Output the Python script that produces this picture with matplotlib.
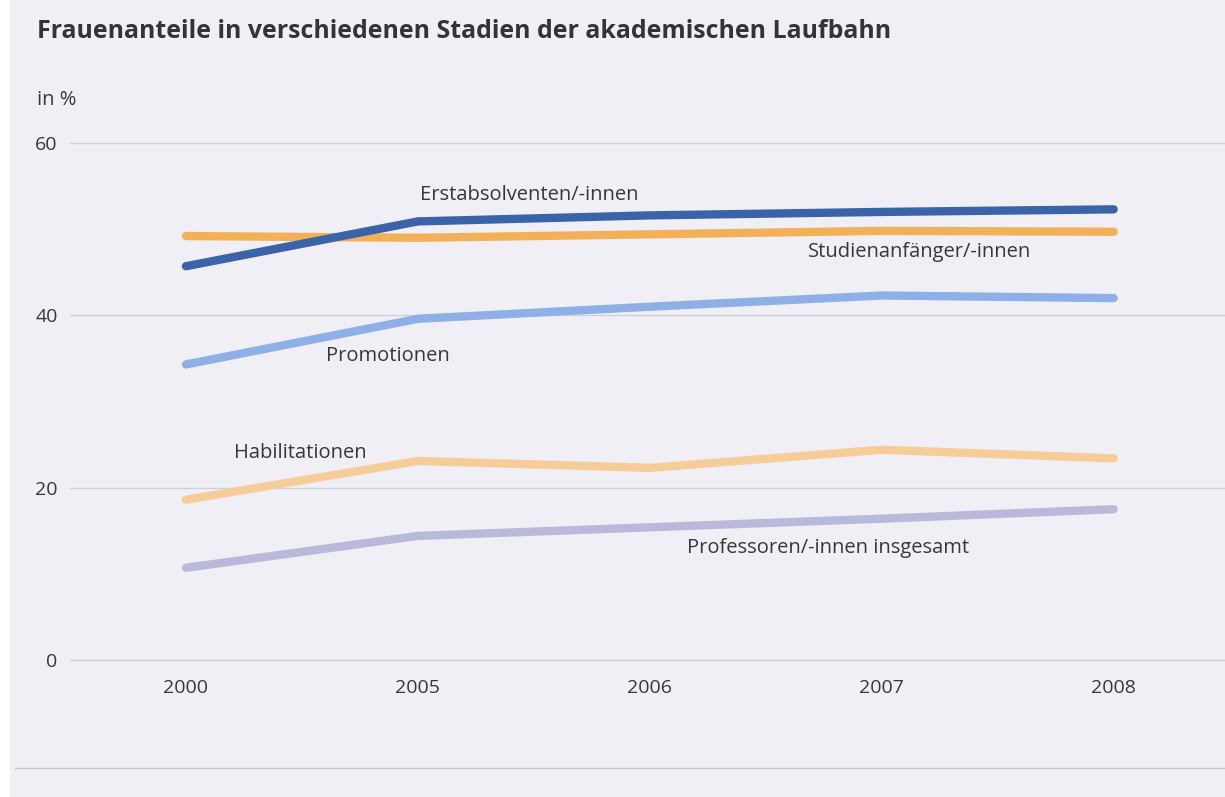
import matplotlib
matplotlib.use("Agg")
import matplotlib.pyplot as plt
from matplotlib.lines import Line2D

years = ["2000", "2005", "2006", "2007", "2008"]
erstabsolventen = [45.7, 50.9, 51.6, 52.0, 52.3]
studienanfaenger = [49.2, 49.0, 49.4, 49.8, 49.7]
promotionen = [34.3, 39.6, 41.0, 42.3, 42.0]
habilitationen = [18.6, 23.1, 22.3, 24.4, 23.4]
professoren = [10.7, 14.4, 15.4, 16.4, 17.5]
yticks = [0, 20, 40, 60]

FONT = ["Open Sans", "DejaVu Sans"]
plt.rcParams["font.family"] = FONT
BG = "#EFEFF5"
TXT = "#36363c"

fig = plt.figure(figsize=(12.25, 7.97), dpi=100)
fig.patch.set_facecolor(BG)
# white strip at the left edge
fig.patches.append(plt.Rectangle((0, 0), 10 / 1225, 1, transform=fig.transFigure,
                                 facecolor="white", edgecolor="none", zorder=0))

ax = fig.add_axes([70 / 1225, 1 - 669 / 797, 1155 / 1225, 535 / 797])
ax.set_facecolor(BG)
ax.set_xlim(-0.5, 4.48)
ax.set_ylim(-1.044, 61.044)
for s in ax.spines.values():
    s.set_visible(False)

x = list(range(len(years)))
ax.set_yticks(yticks)
ax.set_yticklabels([str(v) for v in yticks], fontsize=14, color=TXT)
ax.tick_params(axis="y", length=0, pad=9)
ax.set_xticks(x)
ax.set_xticklabels(years, fontsize=14, color=TXT)
ax.tick_params(axis="x", length=0, pad=7)
ax.grid(axis="y", color="#cfcfd6", linewidth=0.9)
ax.set_axisbelow(True)

series = [
    (professoren, "#B9B9DB"),
    (habilitationen, "#F6CD98"),
    (promotionen, "#8FB0E6"),
    (studienanfaenger, "#F2B158"),
    (erstabsolventen, "#3B63A8"),
]
for vals, col in series:
    ax.plot(x, vals, color=col, linewidth=6.0, solid_capstyle="round",
            solid_joinstyle="round", zorder=3)

lab_kw = dict(fontsize=14.5, color=TXT, va="center", ha="left")
ax.text(1.009, 53.96, "Erstabsolventen/-innen", **lab_kw)
ax.text(2.681, 47.35, "Studienanfänger/-innen", **lab_kw)
ax.text(0.603, 35.28, "Promotionen", **lab_kw)
ax.text(0.207, 24.02, "Habilitationen", **lab_kw)
ax.text(2.159, 13.0, "Professoren/-innen insgesamt", **lab_kw)

fig.text(37 / 1225, 1 - 32 / 797, "Frauenanteile in verschiedenen Stadien der akademischen Laufbahn",
         fontsize=17.9, fontweight="bold", color="#333338", va="center", ha="left")
fig.text(37 / 1225, 1 - 100 / 797, "in %", fontsize=14.5, color=TXT, va="center", ha="left")

fig.add_artist(Line2D([15 / 1225, 1], [1 - 768 / 797, 1 - 768 / 797],
                      transform=fig.transFigure, color="#c9c9d0", linewidth=1.0))

fig.savefig("out.png", dpi=100, facecolor=BG)
